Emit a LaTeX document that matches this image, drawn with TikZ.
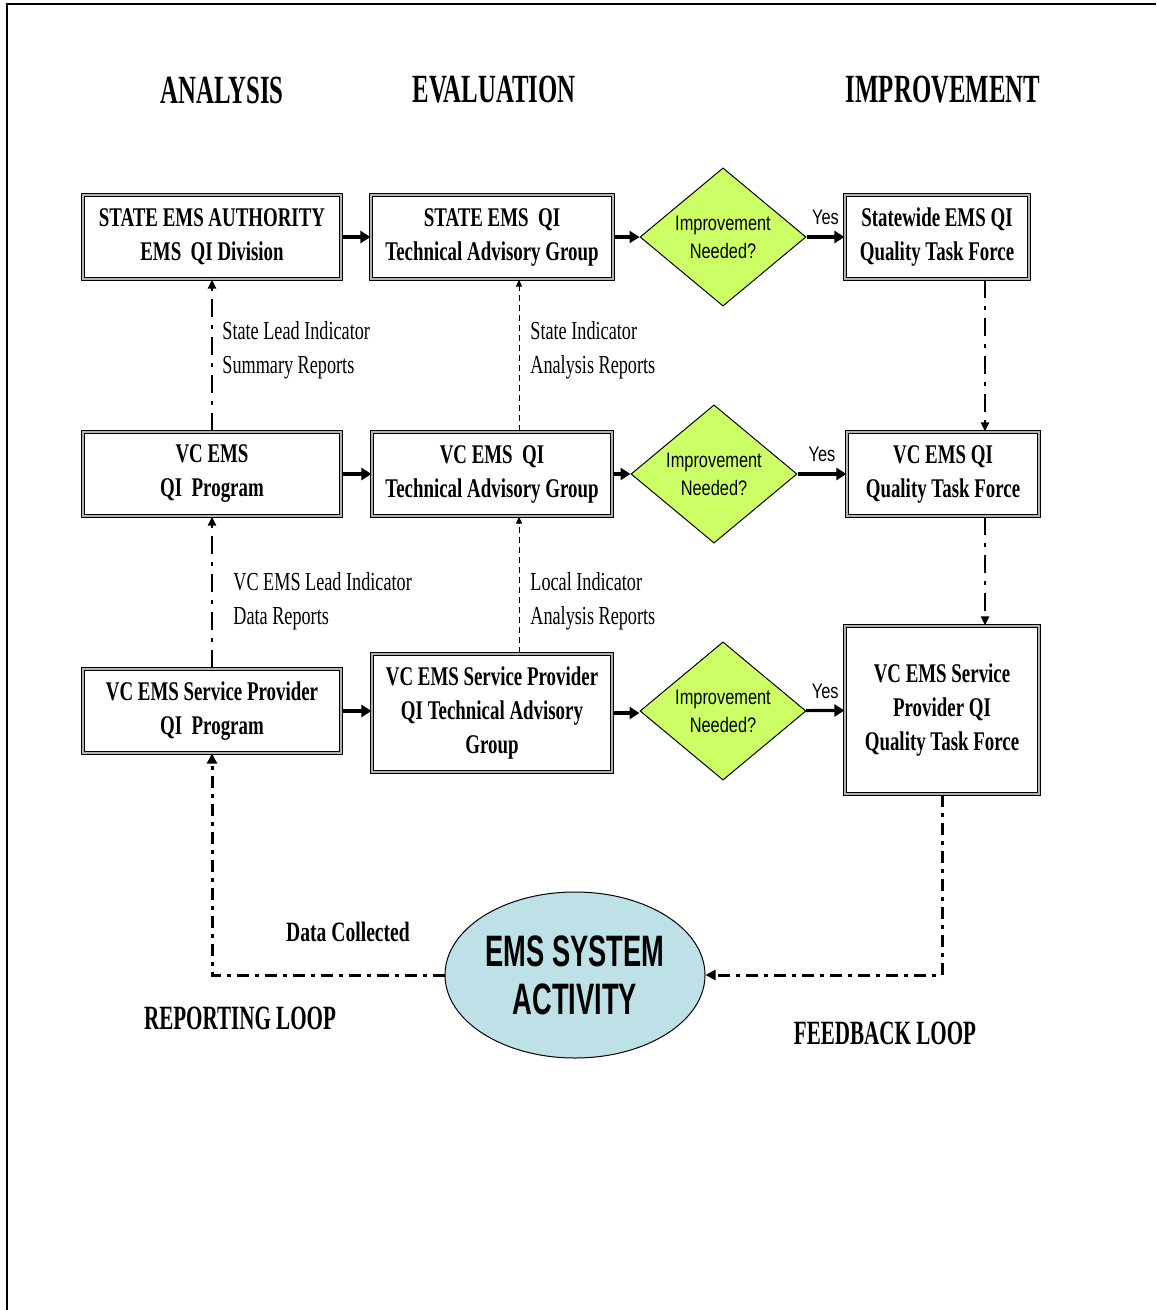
\documentclass[tikz,border=0pt]{standalone}
\usepackage{fontspec}
\setmainfont{Liberation Serif}
\newfontfamily\narrowserif[FakeStretch=0.70]{Liberation Serif}
\newfontfamily\headserif[FakeStretch=0.62]{Liberation Serif}
\newfontfamily\narrowsans[FakeStretch=0.78]{Liberation Sans}
\newfontfamily\blobsans[FakeStretch=0.62]{Liberation Sans}
\usetikzlibrary{shapes.geometric,arrows.meta}
\definecolor{decisiongreen}{RGB}{204,255,102}
\definecolor{activityblue}{RGB}{189,225,230}
\tikzset{
  qibox/.style={draw=black, double=gray!60, double distance=1.2pt, line width=0.6pt,
    fill=white, align=center, inner sep=2pt,
    font=\narrowserif\bfseries\fontsize{13.5}{17}\selectfont},
  decision/.style={diamond, draw=black, line width=0.5pt, fill=decisiongreen,
    minimum width=83pt, minimum height=69pt, inner sep=0pt, align=center,
    font=\narrowsans\fontsize{10.5}{14}\selectfont},
  heading/.style={font=\headserif\bfseries\fontsize{20}{24}\selectfont},
  looplabel/.style={font=\narrowserif\bfseries\fontsize{14}{17}\selectfont},
  reportlabel/.style={anchor=west, align=left, inner sep=0pt,
    font=\narrowserif\fontsize{13}{17}\selectfont},
  yeslabel/.style={font=\narrowsans\fontsize{10.5}{12}\selectfont},
  flow/.style={line width=1.6pt, -{Triangle[length=5pt,width=6pt]}},
  dashdot/.style={line width=1.1pt, dash pattern=on 9pt off 4pt on 2pt off 4pt,
    -{Triangle[length=4.5pt,width=4pt]}},
  thinreport/.style={line width=0.5pt, dash pattern=on 3pt off 2pt,
    -{Triangle[length=3.5pt,width=3pt]}},
  feedloop/.style={line width=1.5pt, dash pattern=on 6pt off 3pt on 2pt off 3pt,
    -{Triangle[length=5pt,width=5pt]}}
}
\begin{document}
\begin{tikzpicture}[x=0.5pt, y=-0.5pt]
  \useasboundingbox (0,0) rectangle (1156,1310);
  \draw[line width=1.3pt] (7,1310) -- (7,4) -- (1156,4);
  % column headings
  \node[heading] (analysis) at (222,90) {ANALYSIS};
  \node[heading] (evaluation) at (494,90) {EVALUATION};
  \node[heading] (improvement) at (943,90) {IMPROVEMENT};
  % state level
  \node[qibox, minimum width=129pt, minimum height=42pt] (authority) at (212,237) {STATE EMS AUTHORITY\\EMS\ \ QI Division};
  \node[qibox, minimum width=121pt, minimum height=42pt] (statetag) at (492,237) {STATE EMS\ \ QI\\Technical Advisory Group};
  \node[decision] (statedec) at (723,237) {Improvement\\Needed?};
  \node[qibox, minimum width=92pt, minimum height=42pt] (statetf) at (937,237) {Statewide EMS QI\\Quality Task Force};
  % county level
  \node[qibox, minimum width=129pt, minimum height=42pt] (vcqi) at (212,474) {VC EMS\\QI\ \ Program};
  \node[qibox, minimum width=120pt, minimum height=42pt] (vctag) at (492,474) {VC EMS\ \ QI\\Technical Advisory Group};
  \node[decision] (vcdec) at (714,474) {Improvement\\Needed?};
  \node[qibox, minimum width=96pt, minimum height=42pt] (vctf) at (943,474) {VC EMS QI\\Quality Task Force};
  % provider level
  \node[qibox, minimum width=129pt, minimum height=42pt] (spqi) at (212,711) {VC EMS Service Provider\\QI\ \ Program};
  \node[qibox, minimum width=120pt, minimum height=59pt] (sptag) at (492,713) {VC EMS Service Provider\\QI Technical Advisory\\Group};
  \node[decision] (spdec) at (723,711) {Improvement\\Needed?};
  \node[qibox, minimum width=97pt, minimum height=84pt] (sptf) at (942,710) {VC EMS Service\\Provider QI\\Quality Task Force};
  % system activity
  \node[ellipse, draw=black, line width=0.5pt, fill=activityblue, minimum width=130pt,
    minimum height=83pt, inner sep=0pt, align=center,
    font=\blobsans\bfseries\fontsize{22}{24}\selectfont] (activity) at (575,975) {EMS SYSTEM\\ACTIVITY};
  % horizontal flow
  \draw[flow] (authority) -- (statetag);
  \draw[flow] (statetag) -- (statedec);
  \draw[flow] (statedec) -- node[yeslabel, above, yshift=2pt] (yesa) {Yes} (statetf);
  \draw[flow] (vcqi) -- (vctag);
  \draw[flow] (vctag) -- (vcdec);
  \draw[flow] (vcdec) -- node[yeslabel, above, yshift=2pt] (yesb) {Yes} (vctf);
  \draw[flow] (spqi.east) -- (spqi.east -| sptag.west);
  \draw[flow] (sptag.east) -- (sptag.east -| spdec.west);
  \draw[flow] (spdec) -- node[yeslabel, above, yshift=2pt] (yesc) {Yes} (sptf);
  % reports up
  \draw[dashdot] (vcqi) -- (authority);
  \draw[dashdot] (spqi) -- (vcqi);
  \draw[thinreport] ([xshift=13.5pt]vctag.north) -- ([xshift=13.5pt]statetag.south);
  \draw[thinreport] ([xshift=13.5pt]sptag.north) -- ([xshift=13.5pt]vctag.south);
  \node[reportlabel] (stlead) at (222,350) {State Lead Indicator\\Summary Reports};
  \node[reportlabel] (stind) at (530,350) {State Indicator\\Analysis Reports};
  \node[reportlabel] (vclead) at (233,601) {VC EMS Lead Indicator\\Data Reports};
  \node[reportlabel] (locind) at (530,601) {Local Indicator\\Analysis Reports};
  % task forces down
  \draw[dashdot] ([xshift=24pt]statetf.south) -- ([xshift=24pt]statetf.south |- vctf.north);
  \draw[dashdot] ([xshift=21pt]vctf.south) -- ([xshift=21pt]vctf.south |- sptf.north);
  % loops
  \draw[feedloop] (activity.west) -| (spqi.south);
  \draw[feedloop] (sptf.south) |- (activity.east);
  \node[looplabel] (collected) at (348,932) {Data Collected};
  \node[looplabel, font=\headserif\bfseries\fontsize{17}{20}\selectfont] (reporting) at (240,1018) {REPORTING LOOP};
  \node[looplabel, font=\headserif\bfseries\fontsize{17}{20}\selectfont] (feedback) at (885,1033) {FEEDBACK LOOP};
\end{tikzpicture}
\end{document}
